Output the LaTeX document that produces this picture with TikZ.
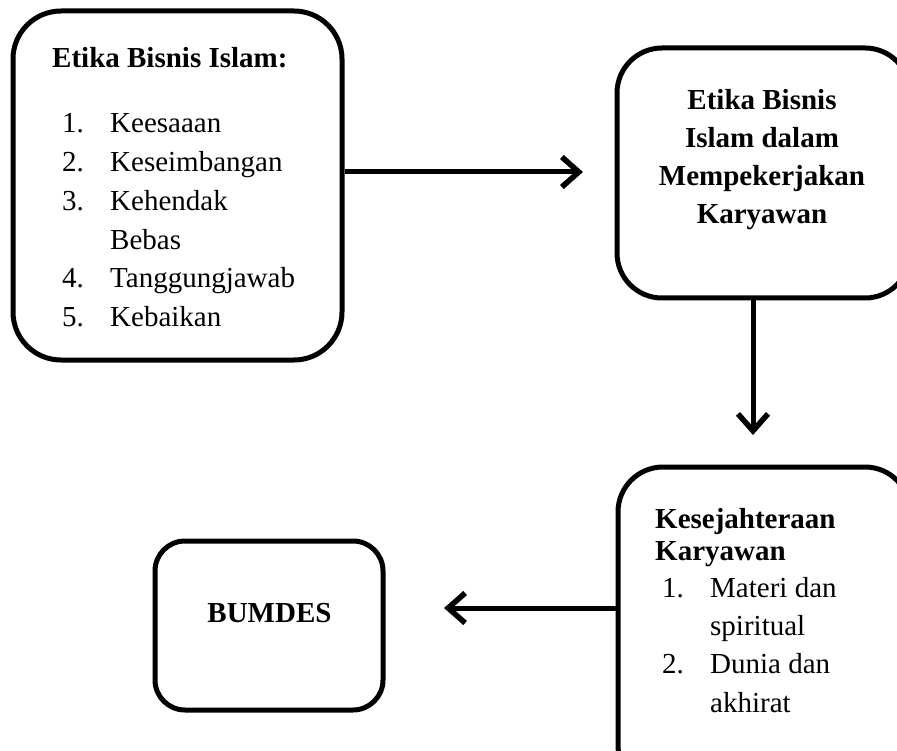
\documentclass[tikz,border=0pt]{standalone}
\usepackage{fontspec}
\setmainfont{Liberation Serif}
\usetikzlibrary{arrows.meta}
\begin{document}
\begin{tikzpicture}[x=1pt,y=-1pt,
  box/.style={draw, line width=5pt, rounded corners=#1, inner sep=0pt},
  box/.default=48pt,
  txt/.style={inner sep=0pt, font=\fontsize{29}{38.8}\selectfont},
  btxt/.style={inner sep=0pt, font=\fontsize{29}{38.8}\selectfont\bfseries},
  arr/.style={line width=5pt, -{Straight Barb[length=17pt,width=30pt,line width=5.5pt]}}]
\useasboundingbox (0,0) rectangle (897,751);
% boxes
\node[box, minimum width=329pt, minimum height=349pt] (b1) at (177.5,185.5) {};
\node[box=45pt, minimum width=293pt, minimum height=250pt] (b2) at (763.5,173) {};
\node[box=45pt, minimum width=292pt, minimum height=323pt] (b3) at (764,628.5) {};
\node[box=30pt, minimum width=228pt, minimum height=169pt] (b4) at (269,625.5) {};
% box 1 text
\node[btxt, anchor=base west] (h1) at (52,68) {Etika Bisnis Islam:};
\node[txt, anchor=base west] (n11) at (62,133) {1.};
\node[txt, anchor=base west] (t11) at (110,133) {Keesaaan};
\node[txt, anchor=base west] (n12) at (62,171.7) {2.};
\node[txt, anchor=base west] (t12) at (110,171.7) {Keseimbangan};
\node[txt, anchor=base west] (n13) at (62,210.4) {3.};
\node[txt, anchor=base west] (t13) at (110,210.4) {Kehendak};
\node[txt, anchor=base west] (t13b) at (110,249.1) {Bebas};
\node[txt, anchor=base west] (n14) at (62,287.8) {4.};
\node[txt, anchor=base west] (t14) at (110,287.8) {Tanggungjawab};
\node[txt, anchor=base west] (n15) at (62,326.5) {5.};
\node[txt, anchor=base west] (t15) at (110,326.5) {Kebaikan};
% box 2 text
\node[btxt, anchor=base] (h2a) at (762,110) {Etika Bisnis};
\node[btxt, anchor=base] (h2b) at (762,148) {Islam dalam};
\node[btxt, anchor=base] (h2c) at (762,186) {Mempekerjakan};
\node[btxt, anchor=base] (h2d) at (762,224) {Karyawan};
% box 3 text
\node[btxt, anchor=base west] (h3a) at (655,528) {Kesejahteraan};
\node[btxt, anchor=base west] (h3b) at (655,560) {Karyawan};
\node[txt, anchor=base west] (n31) at (662,597) {1.};
\node[txt, anchor=base west] (t31) at (710,597) {Materi dan};
\node[txt, anchor=base west] (t31b) at (710,635) {spiritual};
\node[txt, anchor=base west] (n32) at (662,673) {2.};
\node[txt, anchor=base west] (t32) at (710,673) {Dunia dan};
\node[txt, anchor=base west] (t32b) at (710,712) {akhirat};
% box 4 text
\node[btxt, anchor=base] (h4) at (269.5,622) {BUMDES};
% arrows
\coordinate (tip1) at (583,172);
\coordinate (tip2) at (753,435);
\coordinate (tip3) at (444,608);
\draw[arr] (tip1 -| b1.east) -- (tip1);
\draw[arr] (tip2 |- b2.south) -- (tip2);
\draw[arr] (tip3 -| b3.west) -- (tip3);
\end{tikzpicture}
\end{document}
